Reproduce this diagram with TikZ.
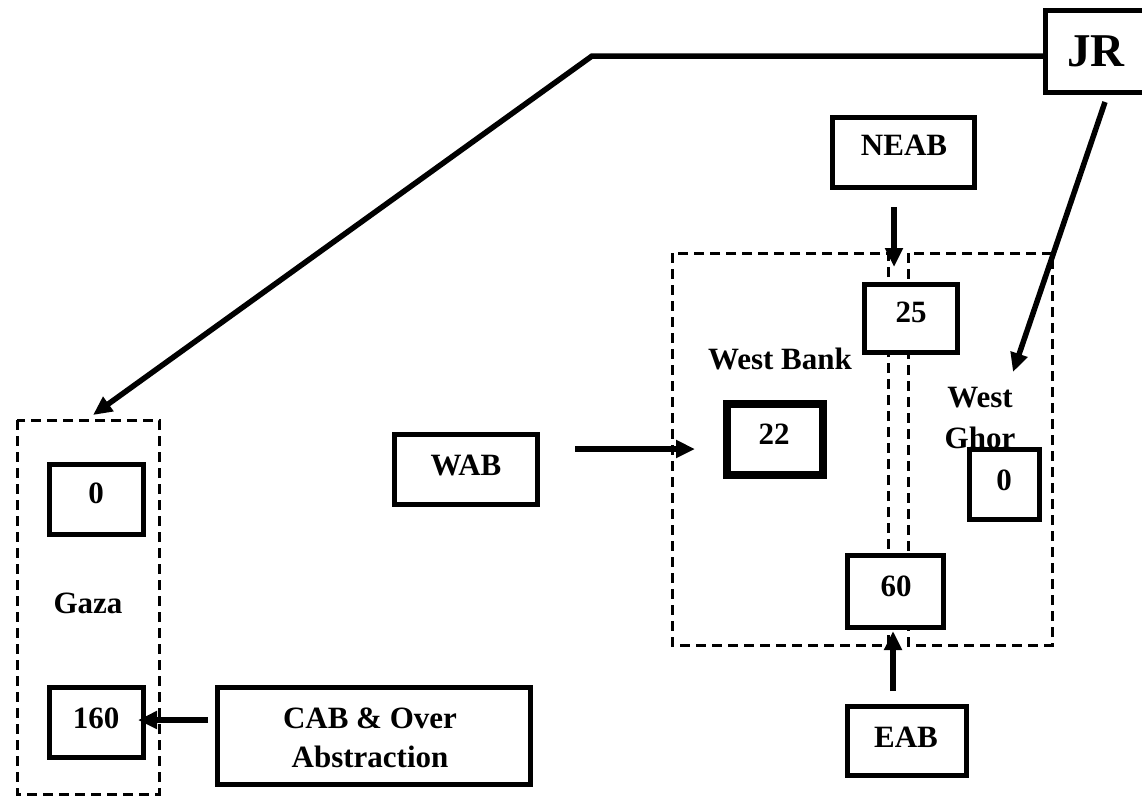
\documentclass[tikz,border=0pt]{standalone}
\usepackage{fontspec}
\setmainfont{Liberation Serif}
\usetikzlibrary{arrows.meta}
\begin{document}
\begin{tikzpicture}[x=1pt,y=-1pt,
  boxwh/.style n args={2}{draw, line width=5pt, fill=white, inner sep=0pt,
    minimum width=#1, minimum height=#2},
  lbl/.style={anchor=base, inner sep=0pt, font=\fontsize{31}{38}\selectfont\bfseries},
  biglbl/.style={anchor=base, inner sep=0pt, font=\fontsize{47}{50}\selectfont\bfseries},
  region/.style={draw, line width=3pt, dash pattern=on 10pt off 6pt},
  flow/.style={line width=5.5pt, -{Triangle[length=19pt,width=17pt]}}]

\path[use as bounding box, fill=white] (0,0) rectangle (1142,796);

% dashed regions
\draw[region] (17,420) rectangle (159,794);
\draw[region] (672,253) rectangle (888,645);
\draw[region] (908,253) rectangle (1052,645);

% region names
\node[lbl] (gazaLbl) at (88,613) {Gaza};
\node[lbl] (wbLbl) at (780,369) {West Bank};
\node[lbl] (wgLblA) at (980,407) {West};
\node[lbl] (wgLblB) at (980,448) {Ghor};

% boxes
\node[boxwh={101pt}{82pt}] (JR) at (1096,51.5) {};
\node[boxwh={142pt}{70pt}] (NEAB) at (903.5,152.5) {};
\node[boxwh={93pt}{68pt}] (wb25) at (911,318.5) {};
\node[boxwh={96pt}{71pt}, line width=8pt] (wb22) at (775,439.5) {};
\node[boxwh={70pt}{70pt}] (wg0) at (1004.5,484.5) {};
\node[boxwh={96pt}{72pt}] (wb60) at (895.5,591.5) {};
\node[boxwh={119pt}{69pt}] (EAB) at (907,741) {};
\node[boxwh={143pt}{70pt}] (WAB) at (466,469.5) {};
\node[boxwh={94pt}{70pt}] (gz0) at (96.5,499.5) {};
\node[boxwh={94pt}{70pt}] (gz160) at (96.5,722.5) {};
\node[boxwh={313pt}{97pt}] (CAB) at (374,736) {};

% box texts
\node[biglbl] (JRtxt) at (1096,66) {JR};
\node[lbl] (NEABtxt) at (904,155) {NEAB};
\node[lbl] (wb25txt) at (911,322) {25};
\node[lbl] (wb22txt) at (774,444) {22};
\node[lbl] (wg0txt) at (1004,490) {0};
\node[lbl] (wb60txt) at (896,596) {60};
\node[lbl] (EABtxt) at (906,747) {EAB};
\node[lbl] (WABtxt) at (466,475) {WAB};
\node[lbl] (gz0txt) at (96,503) {0};
\node[lbl] (gz160txt) at (96,728) {160};
\node[lbl] (CABtxtA) at (370,728) {CAB \& Over};
\node[lbl] (CABtxtB) at (370,767) {Abstraction};

% connector end points
\coordinate (bend) at (592,56);
\coordinate (gazaIn) at (93,415);
\coordinate (jrOut) at (1105,102);
\coordinate (wgIn) at (1013,372);
\coordinate (neabOut) at (894,207);
\coordinate (neabIn) at (894,267);
\coordinate (wabOut) at (575,449);
\coordinate (wabIn) at (695,449);
\coordinate (eabOut) at (893,691);
\coordinate (eabIn) at (893,631);
\coordinate (cabOut) at (208,720);
\coordinate (cabIn) at (138,720);

% flows
\draw[flow] (JR.west |- bend) -- (bend) -- (gazaIn);
\draw[flow] (jrOut) -- (wgIn);
\draw[flow] (neabOut) -- (neabIn);
\draw[flow] (wabOut) -- (wabIn);
\draw[flow] (eabOut) -- (eabIn);
\draw[flow] (cabOut) -- (cabIn);
\end{tikzpicture}
\end{document}
